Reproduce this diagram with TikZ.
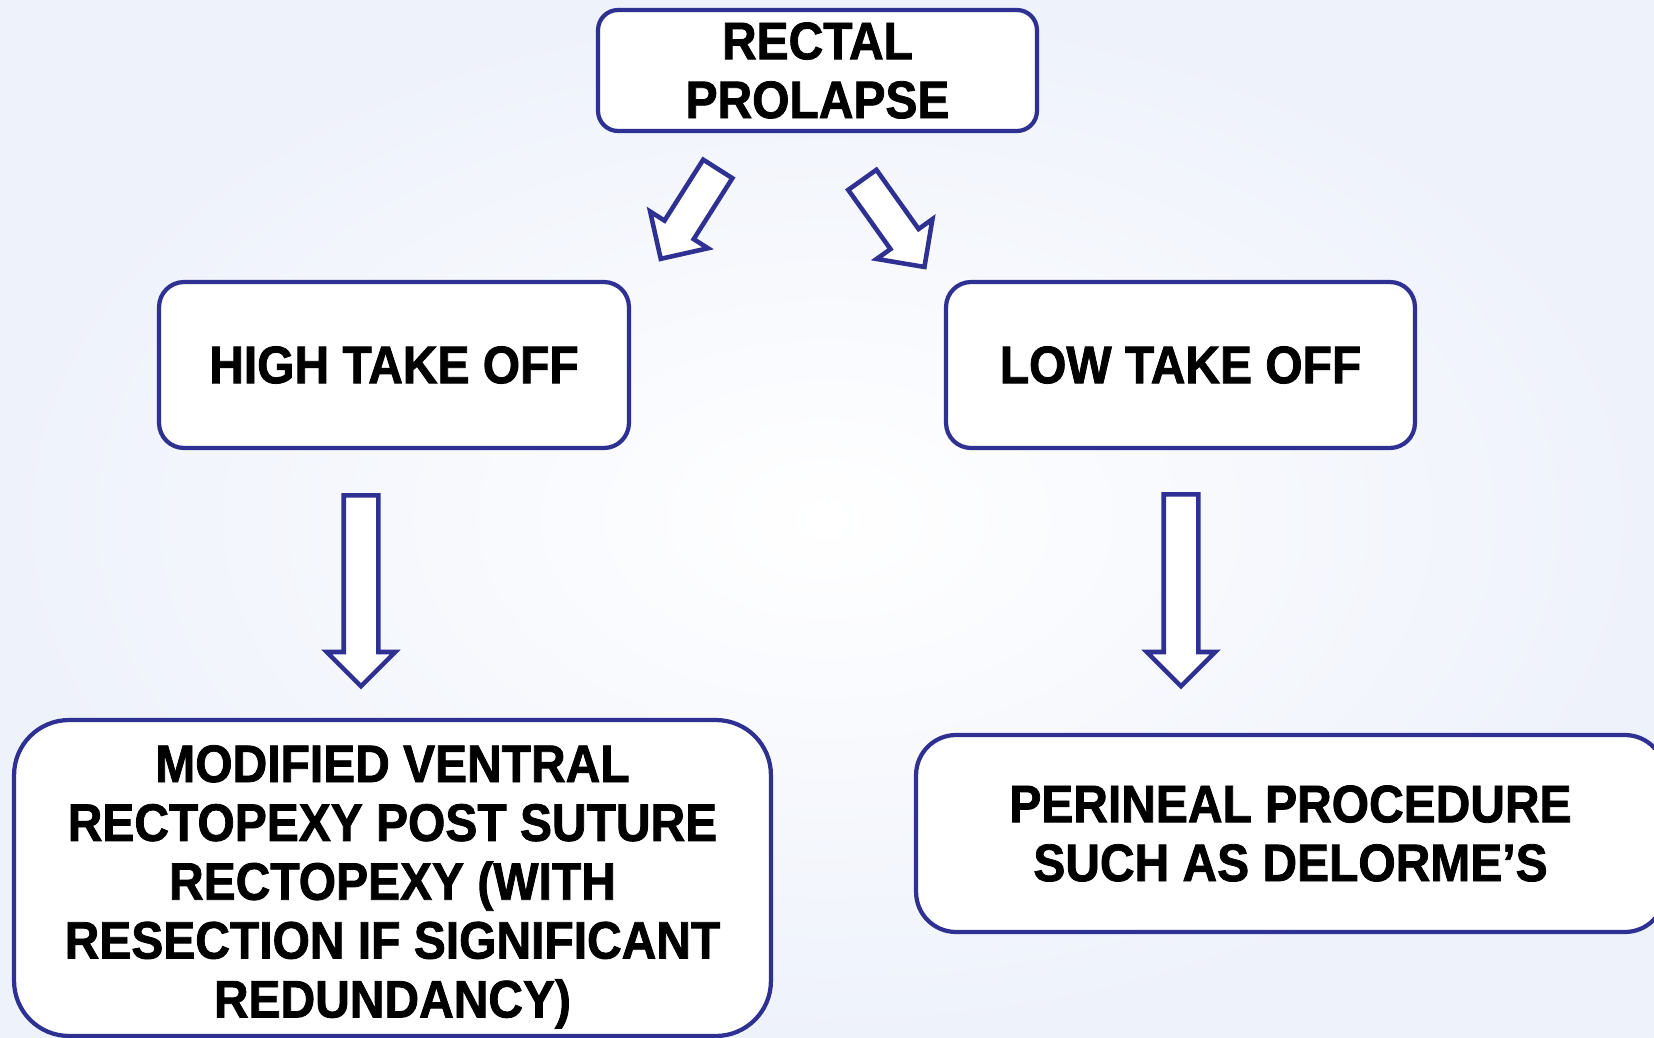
\documentclass[tikz,border=0pt]{standalone}
\usepackage{fontspec}
\setmainfont{Liberation Sans}[FakeStretch=0.91, FakeBold=1.5]
\usetikzlibrary{shapes.arrows}
\definecolor{boxblue}{RGB}{46,49,146}
\definecolor{bgblue}{RGB}{238,242,251}

\begin{document}
\begin{tikzpicture}[x=0.02cm, y=-0.02cm,
    box/.style={draw=boxblue, line width=2.4pt, fill=white, align=center,
        font=\fontsize{30}{33.5}\selectfont\bfseries, inner sep=0pt},
    blockarrow/.style={single arrow, draw=boxblue, line width=2.6pt, fill=white,
        inner xsep=0pt, inner ysep=0.3cm, single arrow head extend=0.34cm,
        single arrow tip angle=90, anchor=tail}]
    \useasboundingbox (0,0) rectangle (1654,1038);
    \clip (0,0) rectangle (1654,1038);
    \shade[inner color=white, outer color=bgblue] (0,0) rectangle (1654,1038);

    % boxes
    \node[box, rounded corners=0.4cm, minimum width=8.78cm, minimum height=2.42cm] (prolapse) at (817.5,70.5) {RECTAL\\PROLAPSE};
    \node[box, rounded corners=0.5cm, minimum width=9.4cm, minimum height=3.32cm] (high) at (394,365) {HIGH TAKE OFF};
    \node[box, rounded corners=0.5cm, minimum width=9.38cm, minimum height=3.32cm] (low) at (1180.5,365) {LOW TAKE OFF};
    \node[box, rounded corners=1.1cm, minimum width=15.14cm, minimum height=6.32cm] (modified) at (392.5,878)
        {\raisebox{-5pt}[\height][\depth]{\parbox{14cm}{\centering MODIFIED VENTRAL\\RECTOPEXY POST SUTURE\\RECTOPEXY (WITH\\RESECTION IF SIGNIFICANT\\REDUNDANCY)}}};
    \node[box, rounded corners=0.8cm, minimum width=14.98cm, minimum height=3.94cm] (perineal) at (1290.5,833.5)
        {PERINEAL PROCEDURE\\SUCH AS DELORME’S};

    % block arrows
    \node[blockarrow, minimum height=2.13cm, rotate=237.6] (toHigh) at (719,167) {};
    \node[blockarrow, minimum height=2.14cm, rotate=305.5] (toLow) at (861,178) {};
    \node[blockarrow, minimum height=3.82cm, rotate=270] (toModified) at (361,493) {};
    \node[blockarrow, minimum height=3.84cm, rotate=270] (toPerineal) at (1181,492) {};
\end{tikzpicture}
\end{document}
